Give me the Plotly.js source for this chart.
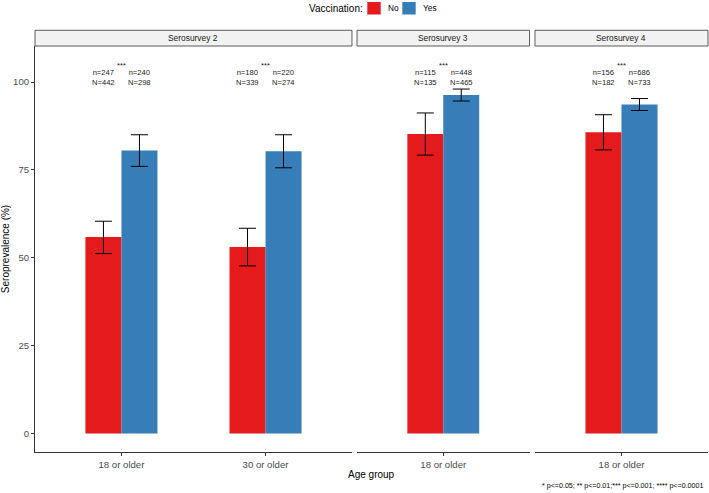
<!DOCTYPE html>
<html>
<head>
<meta charset="utf-8">
<script src="https://cdn.plot.ly/plotly-3.0.1.min.js"></script>
<style>html,body{margin:0;padding:0;background:#fff;}#chart{width:709px;height:493px;}</style>
</head>
<body>
<div id="chart"></div>
<script>
// ---- data ----
var surveys   = ["Serosurvey 2", "Serosurvey 3", "Serosurvey 4"];
var surveyOf  = ["Serosurvey 2", "Serosurvey 2", "Serosurvey 3", "Serosurvey 4"];
var ageGroups = ["18 or older", "30 or older", "18 or older", "18 or older"];
var groups    = ["No", "Yes"];

var noVal  = [55.9, 53.1, 85.2, 85.7];
var noLo   = [51.2, 47.7, 79.2, 80.7];
var noHi   = [60.4, 58.4, 91.2, 90.7];
var yesVal = [80.5, 80.3, 96.3, 93.6];
var yesLo  = [76.0, 75.6, 94.6, 91.9];
var yesHi  = [85.0, 85.0, 98.0, 95.3];

var nNo  = [247, 180, 115, 156];
var NNo  = [442, 339, 135, 182];
var nYes = [240, 220, 448, 686];
var NYes = [298, 274, 465, 733];
var sig  = ["***", "***", "***", "***"];

var yTicks = [0, 25, 50, 75, 100];
var footnote = "* p<=0.05; ** p<=0.01;*** p<=0.001; **** p<=0.0001";

// ---- build ----
var colors = {No: "#E41A1C", Yes: "#377EB8"};
var FONT = "Liberation Sans, Arial, Helvetica, sans-serif";
var axisNames = ["x", "x2", "x3"];
var traces = [];
var annotations = [];
var shapes = [];

surveys.forEach(function (s, si) {
  var idx = [];
  surveyOf.forEach(function (v, i) { if (v === s) idx.push(i); });
  var xs = idx.map(function (i) { return ageGroups[i]; });
  var ax = axisNames[si];
  [["No", noVal, noLo, noHi, -0.25], ["Yes", yesVal, yesLo, yesHi, 0]].forEach(function (g) {
    traces.push({
      type: "bar",
      name: g[0],
      showlegend: false,
      x: xs,
      y: idx.map(function (i) { return g[1][i]; }),
      xaxis: ax, yaxis: "y",
      width: 0.25, offset: g[4],
      marker: {color: colors[g[0]], line: {width: 0}},
      error_y: {
        type: "data", symmetric: false, visible: true,
        array: idx.map(function (i) { return g[3][i] - g[1][i]; }),
        arrayminus: idx.map(function (i) { return g[1][i] - g[2][i]; }),
        color: "#000", thickness: 1, width: 8.5
      },
      hoverinfo: "skip"
    });
  });
  idx.forEach(function (i, k) {
    annotations.push({xref: ax, yref: "y", x: k - 0.125, y: 101.3, text: "n=" + nNo[i] + "<br>N=" + NNo[i],
      showarrow: false, font: {family: FONT, size: 7.6, color: "#222"}, xanchor: "center", yanchor: "middle"});
    annotations.push({xref: ax, yref: "y", x: k + 0.125, y: 101.3, text: "n=" + nYes[i] + "<br>N=" + NYes[i],
      showarrow: false, font: {family: FONT, size: 7.6, color: "#222"}, xanchor: "center", yanchor: "middle"});
    annotations.push({xref: ax, yref: "y", x: k, y: 104.6, text: sig[i],
      showarrow: false, font: {family: FONT, size: 7.6, color: "#222"}, xanchor: "center", yanchor: "middle"});
  });
  // strip
  shapes.push({type: "rect", xref: ax + " domain", yref: "paper", x0: 0, x1: 1, y0: 1, y1: 1.0387,
    fillcolor: "#F2F2F2", line: {color: "#333", width: 0.8}});
  annotations.push({xref: ax + " domain", yref: "paper", x: 0.5, y: 1.0193, text: s, showarrow: false,
    font: {family: FONT, size: 8.4, color: "#1a1a1a"}, xanchor: "center", yanchor: "middle"});
});

// legend (manual)
var legY = (452 - 8.2) / 406;
annotations.push({xref: "paper", yref: "paper", x: (306.5 - 35) / 673, y: legY, text: "Vaccination:",
  showarrow: false, xanchor: "left", yanchor: "middle", font: {family: FONT, size: 10, color: "#000"}});
shapes.push({type: "rect", xref: "paper", yref: "paper", x0: (367.3 - 35) / 673, x1: (380.7 - 35) / 673,
  y0: (452 - 14.5) / 406, y1: (452 - 2) / 406, fillcolor: colors.No, line: {width: 0}});
annotations.push({xref: "paper", yref: "paper", x: (386.3 - 35) / 673, y: legY, text: groups[0],
  showarrow: false, xanchor: "left", yanchor: "middle", font: {family: FONT, size: 8.3, color: "#000"}});
shapes.push({type: "rect", xref: "paper", yref: "paper", x0: (402.3 - 35) / 673, x1: (415.7 - 35) / 673,
  y0: (452 - 14.5) / 406, y1: (452 - 2) / 406, fillcolor: colors.Yes, line: {width: 0}});
annotations.push({xref: "paper", yref: "paper", x: (421.3 - 35) / 673, y: legY, text: groups[1],
  showarrow: false, xanchor: "left", yanchor: "middle", font: {family: FONT, size: 8.3, color: "#000"}});

// axis title and footnote
annotations.push({xref: "paper", yref: "paper", x: 0.5, y: -(474.7 - 452) / 406, text: "Age group",
  showarrow: false, xanchor: "center", yanchor: "middle", font: {family: FONT, size: 10, color: "#000"}});
annotations.push({xref: "paper", yref: "paper", x: 1, xshift: -3, y: -(486.3 - 452) / 406, text: footnote,
  showarrow: false, xanchor: "right", yanchor: "middle", font: {family: FONT, size: 7.1, color: "#000"}});

var xbase = {
  type: "category", showline: true, linecolor: "#333", linewidth: 1, mirror: false,
  ticks: "outside", ticklen: 3, tickcolor: "#333", tickwidth: 1,
  showgrid: false, zeroline: false, fixedrange: true,
  tickfont: {family: FONT, size: 9.6, color: "#4D4D4D"}, anchor: "y"
};
function xa(dom, rng) { var o = JSON.parse(JSON.stringify(xbase)); o.domain = dom; o.range = rng; return o; }

var layout = {
  width: 709, height: 493,
  margin: {l: 35, r: 1, t: 46, b: 41},
  paper_bgcolor: "#fff", plot_bgcolor: "#fff",
  barmode: "overlay",
  showlegend: false,
  xaxis: xa([0, 0.471], [-0.6, 1.6]),
  xaxis2: xa([0.4785, 0.7348], [-0.6, 0.6]),
  xaxis3: xa([0.7429, 1], [-0.6, 0.6]),
  yaxis: {
    range: [-5.25, 110.25], tickvals: yTicks, ticktext: yTicks.map(String),
    showline: true, linecolor: "#333", linewidth: 1, ticks: "outside", ticklen: 3, tickcolor: "#333",
    showgrid: false, zeroline: false, fixedrange: true,
    tickfont: {family: FONT, size: 9.6, color: "#4D4D4D"},
    title: {text: "Seroprevalence (%)", font: {family: FONT, size: 10, color: "#000"}, standoff: 2}
  },
  annotations: annotations,
  shapes: shapes
};

Plotly.newPlot("chart", traces, layout, {staticPlot: true, displayModeBar: false});
</script>
</body>
</html>
